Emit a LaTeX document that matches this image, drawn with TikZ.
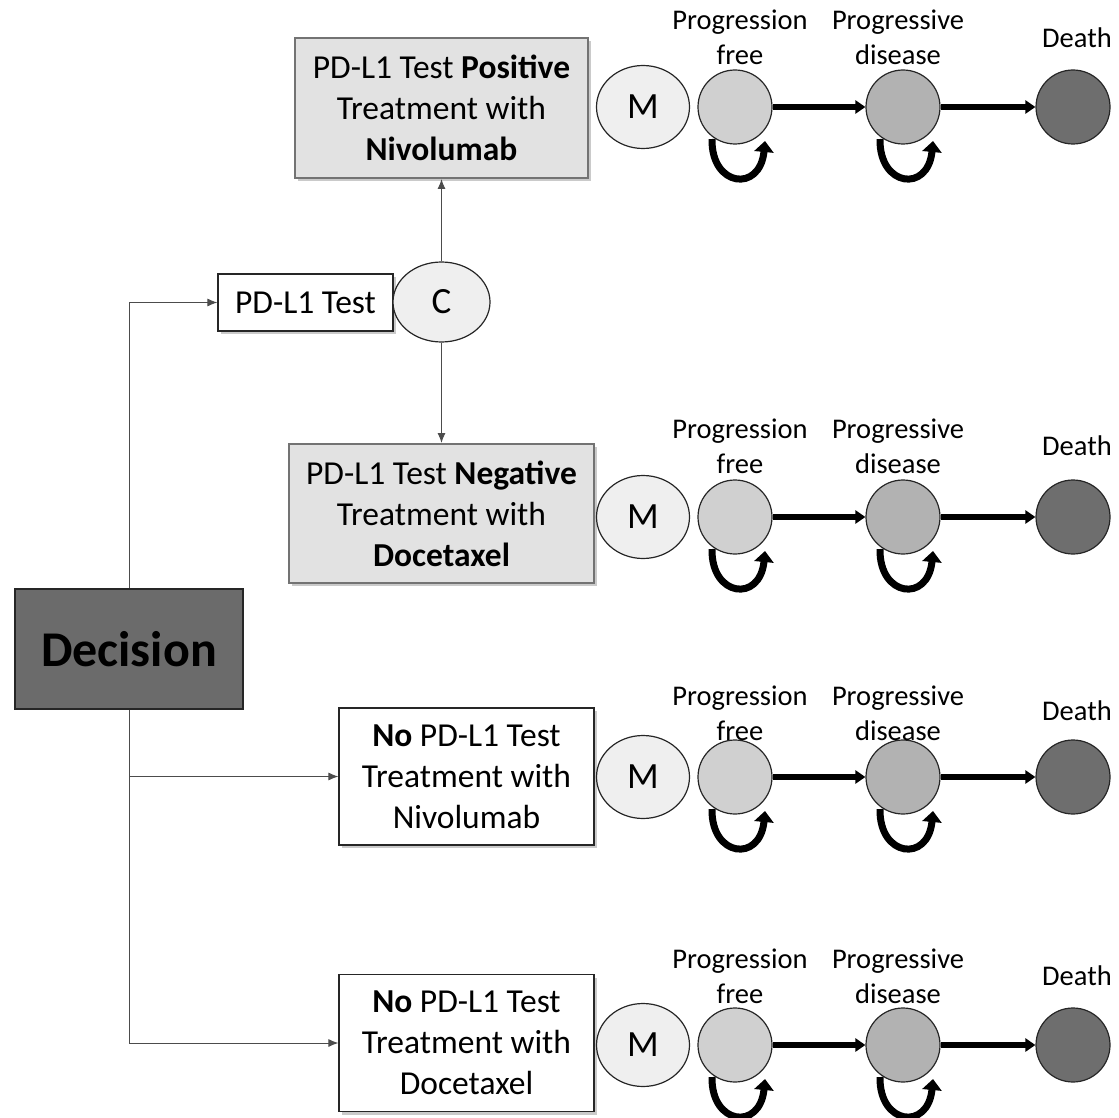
\documentclass[tikz,border=0pt]{standalone}
\usepackage{fontspec}
\setmainfont{Carlito}
\usetikzlibrary{arrows.meta,shadows,shapes.geometric}
\definecolor{boxgray}{HTML}{E2E2E2}
\definecolor{decgray}{HTML}{6B6B6B}
\definecolor{mfill}{HTML}{EFEFEF}
\definecolor{pffill}{HTML}{D0D0D0}
\definecolor{pdfill}{HTML}{B2B2B2}
\definecolor{dfill}{HTML}{6E6E6E}
\begin{document}
\begin{tikzpicture}[x=1pt,y=-1pt,
  shad/.style={drop shadow={shadow xshift=3pt,shadow yshift=-3pt,opacity=0.35,fill=black!60}},
  txtbox/.style={align=center,font=\fontsize{33.5}{41}\selectfont,inner sep=0pt,shad},
  graybox/.style={txtbox,draw=black!55,line width=2pt,fill=boxgray},
  whitebox/.style={txtbox,draw=black!85,line width=1.2pt,fill=white},
  chance/.style={ellipse,draw=black!85,line width=1.2pt,fill=mfill,inner sep=0pt,font=\fontsize{37}{37}\selectfont},
  state/.style={circle,draw=black!85,line width=1.2pt,minimum size=74pt,inner sep=0pt},
  lab/.style={align=center,inner sep=0pt,font=\fontsize{28.5}{35}\selectfont},
  thin/.style={draw=black!70,line width=1pt,-{Latex[length=10pt,width=8pt]}},
  thick/.style={line width=5.5pt,-{Triangle[length=10pt,width=13pt]}},
  selfloop/.style={line width=7pt,-{Triangle[length=11pt,width=19pt]}},
]
\useasboundingbox (0,0) rectangle (1119,1118);

% decision and branch boxes
\node[draw=black!85,line width=1.5pt,fill=decgray,minimum width=228pt,minimum height=120pt,
      font=\fontsize{50}{50}\selectfont\bfseries,inner sep=0pt] (dec) at (129,649) {Decision};
\node[whitebox,minimum width=175pt,minimum height=57pt] (test) at (305.5,302.5) {PD-L1 Test};
\node[chance,minimum width=97pt,minimum height=80pt] (c) at (441.5,302) {C};
\node[graybox,minimum width=293pt,minimum height=140pt] (pos) at (441.5,108)
  {PD-L1 Test \textbf{Positive}\\Treatment with\\\textbf{Nivolumab}};
\node[graybox,minimum width=305pt,minimum height=139pt] (neg) at (441.5,513.5)
  {PD-L1 Test \textbf{Negative}\\Treatment with\\\textbf{Docetaxel}};
\node[whitebox,minimum width=255pt,minimum height=137pt] (nn) at (466.5,776.5)
  {\textbf{No} PD-L1 Test\\Treatment with\\Nivolumab};
\node[whitebox,minimum width=255pt,minimum height=137pt] (nd) at (466.5,1043)
  {\textbf{No} PD-L1 Test\\Treatment with\\Docetaxel};

\draw[thin] (dec.north) |- (test.west);
\draw[thin] (c.north) -- (pos.south);
\draw[thin] (c.south) -- (neg.north);
\draw[thin] (dec.south) |- (nd.west);
\coordinate (br) at (dec.south |- nn.west);
\draw[thin] (br) -- (nn.west);

% Markov chains
\foreach \r/\y/\py/\dy in {a/107/-42/-59, b/517/-44/-62, c/777/-37/-57, d/1045/-42/-60}{
  \node[chance,minimum width=93pt,minimum height=83pt] (m\r) at (643,\y) {M};
  \node[state,fill=pffill] (pf\r) at (735,\y) {};
  \node[state,fill=pdfill] (pd\r) at (903,\y) {};
  \node[state,fill=dfill] (de\r) at (1073,\y) {};
  \node[lab,anchor=base] (lpf\r) at (740,\y+\py) {Progression\\free};
  \node[lab,anchor=base] (lpd\r) at (898,\y+\py) {Progressive\\disease};
  \node[lab,anchor=base] (lde\r) at (1077,\y+\dy) {Death};
  \draw[thick] (pf\r.east) -- (pd\r.west);
  \draw[thick] (pd\r.east) -- (de\r.west);
  \draw[selfloop] ([shift={(-23,32)}]pf\r.center) .. controls +(-1,48) and +(-5,52) .. ([shift={(30,34)}]pf\r.center);
  \draw[selfloop] ([shift={(-23,32)}]pd\r.center) .. controls +(-1,48) and +(-5,52) .. ([shift={(30,34)}]pd\r.center);
}
\end{tikzpicture}
\end{document}
